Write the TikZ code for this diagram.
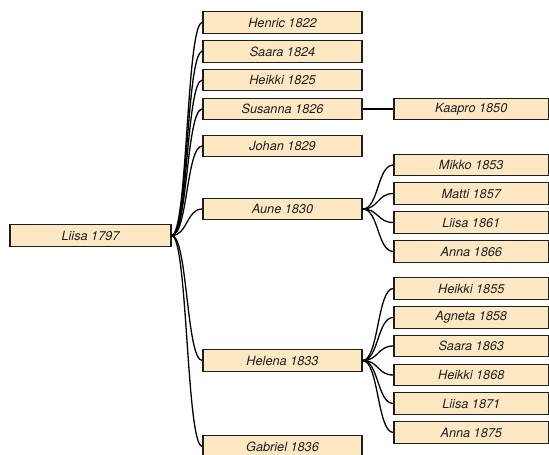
\documentclass[tikz,border=0pt]{standalone}
\usepackage{fontspec}
\setmainfont{TeX Gyre Heros}
\usetikzlibrary{positioning}
\definecolor{boxfill}{HTML}{FDE8C3}
\definecolor{boxline}{HTML}{1E1E1E}

\tikzset{
  person/.style={draw=boxline, fill=boxfill, line width=1.35pt,
    minimum width=159pt, minimum height=21.5pt, inner sep=0pt,
    text=boxline, font=\fontsize{12.7}{14}\selectfont\itshape},
  grandchild/.style={person, minimum width=154.5pt},
  kin/.style={line width=1.3pt, to path={.. controls +(16,0) and +(-16,0) .. (\tikztotarget)}}
}

\begin{document}
\begin{tikzpicture}[x=1pt, y=-1pt]
    \useasboundingbox (0,0) rectangle (549,455);
    % first generation
    \node [person, minimum width=161pt] (liisa97) at (90.5,235.5) {Liisa 1797};
    % children
    \node [person] (henric22)  at (282.5,22.5)  {Henric 1822};
    \node [person] (saara24)   at (282.5,51.5)  {Saara 1824};
    \node [person] (heikki25)  at (282.5,80)    {Heikki 1825};
    \node [person] (susanna26) at (282.5,109)   {Susanna 1826};
    \node [person] (johan29)   at (282.5,146)   {Johan 1829};
    \node [person] (aune30)    at (282.5,209)   {Aune 1830};
    \node [person] (helena33)  at (282.5,360.5) {Helena 1833};
    \node [person] (gabriel36) at (282.5,446.5) {Gabriel 1836};
    % grandchildren
    \node [grandchild] (kaapro50)  at (471.25,109)   {Kaapro 1850};
    \node [grandchild] (mikko53)   at (471.25,165)   {Mikko 1853};
    \node [grandchild] (matti57)   at (471.25,193.5) {Matti 1857};
    \node [grandchild] (liisa61)   at (471.25,222.5) {Liisa 1861};
    \node [grandchild] (anna66)    at (471.25,251.5) {Anna 1866};
    \node [grandchild] (heikki55)  at (471.25,288.5) {Heikki 1855};
    \node [grandchild] (agneta58)  at (471.25,317.5) {Agneta 1858};
    \node [grandchild] (saara63)   at (471.25,346)   {Saara 1863};
    \node [grandchild] (heikki68)  at (471.25,375)   {Heikki 1868};
    \node [grandchild] (liisa71)   at (471.25,403.5) {Liisa 1871};
    \node [grandchild] (anna75)    at (471.25,432.5) {Anna 1875};

    \path[kin] (liisa97.east) edge (henric22.west)
                              edge (saara24.west)
                              edge (heikki25.west)
                              edge (susanna26.west)
                              edge (johan29.west)
                              edge (aune30.west)
                              edge (helena33.west)
                              edge (gabriel36.west)
               (susanna26.east) edge (kaapro50.west)
               (aune30.east)    edge (mikko53.west)
                                edge (matti57.west)
                                edge (liisa61.west)
                                edge (anna66.west)
               (helena33.east)  edge (heikki55.west)
                                edge (agneta58.west)
                                edge (saara63.west)
                                edge (heikki68.west)
                                edge (liisa71.west)
                                edge (anna75.west);
\end{tikzpicture}
\end{document}
